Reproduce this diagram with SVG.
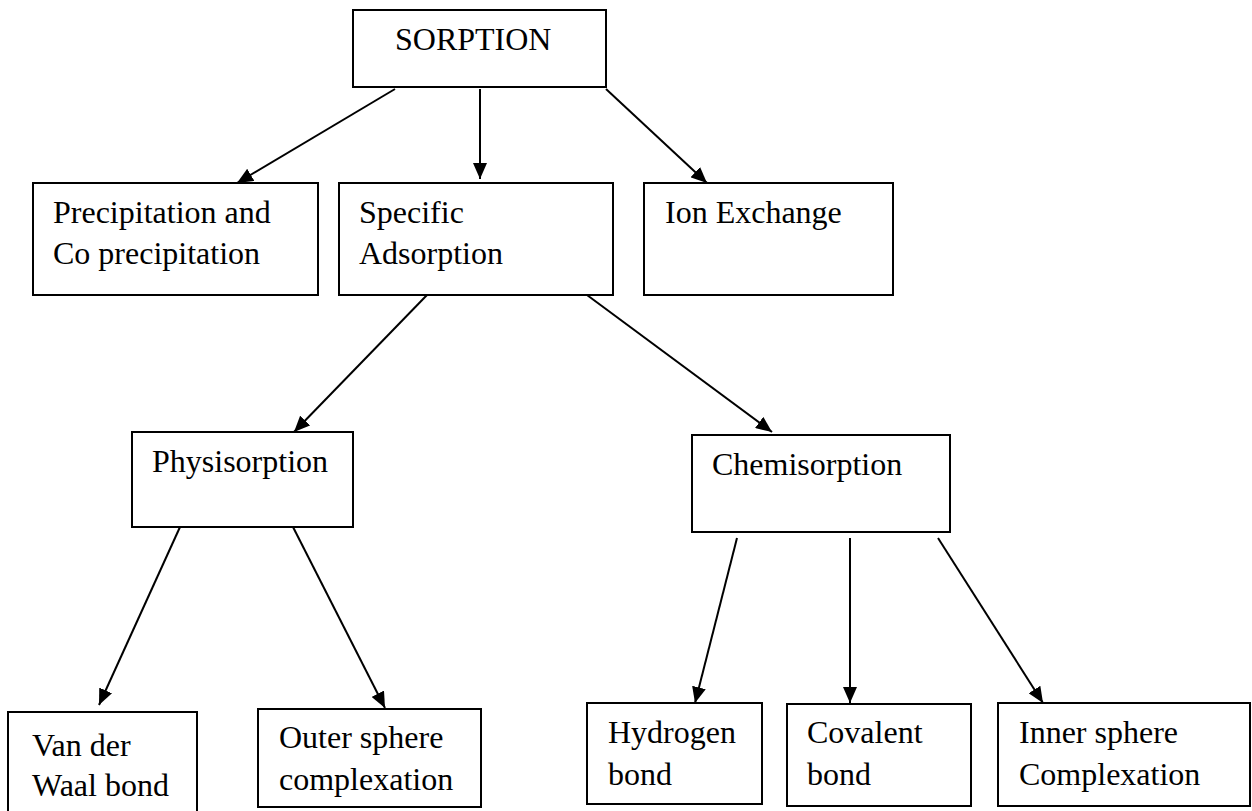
<svg xmlns="http://www.w3.org/2000/svg" width="1252" height="811" viewBox="0 0 1252 811">
<defs>
<style>
.box{fill:#fff;stroke:#000;stroke-width:2}
.t{font-family:"Liberation Serif","Times New Roman",serif;font-size:32px;fill:#000}
.c{stroke:#000;stroke-width:2;fill:none;marker-end:url(#ah)}
</style>
<marker id="ah" viewBox="0 0 16 14" refX="16" refY="7" markerWidth="16" markerHeight="14" markerUnits="userSpaceOnUse" orient="auto">
<path d="M0,0 L16,7 L0,14 Z" fill="#000"/>
</marker>
</defs>
<rect width="1252" height="811" fill="#fff"/>
<g id="connectors">
<line class="c" x1="395" y1="89" x2="237" y2="183"/>
<line class="c" x1="480" y1="89" x2="480" y2="179"/>
<line class="c" x1="606" y1="89" x2="707" y2="183"/>
<line class="c" x1="427" y1="295" x2="294" y2="432"/>
<line class="c" x1="587" y1="295" x2="772" y2="432"/>
<line class="c" x1="180" y1="527" x2="99" y2="705"/>
<line class="c" x1="293" y1="527" x2="385" y2="708"/>
<line class="c" x1="737" y1="538" x2="695" y2="703"/>
<line class="c" x1="850" y1="538" x2="850" y2="703"/>
<line class="c" x1="938" y1="538" x2="1043" y2="703"/>
</g>
<g id="sorption"><rect class="box" x="353" y="10" width="253" height="77"/><text class="t" x="395" y="50">SORPTION</text></g>
<g id="precipitation"><rect class="box" x="33" y="183" width="285" height="112"/><text class="t" x="53" y="223">Precipitation and</text><text class="t" x="53" y="264">Co precipitation</text></g>
<g id="specific"><rect class="box" x="339" y="183" width="274" height="112"/><text class="t" x="359" y="223">Specific</text><text class="t" x="359" y="264">Adsorption</text></g>
<g id="ionexchange"><rect class="box" x="644" y="183" width="249" height="112"/><text class="t" x="665" y="223">Ion Exchange</text></g>
<g id="physisorption"><rect class="box" x="132" y="432" width="221" height="95"/><text class="t" x="152" y="472">Physisorption</text></g>
<g id="chemisorption"><rect class="box" x="692" y="435" width="258" height="97"/><text class="t" x="712" y="475">Chemisorption</text></g>
<g id="vanderwaal"><rect class="box" x="8" y="712" width="189" height="110"/><text class="t" x="32" y="756">Van der</text><text class="t" x="32" y="796">Waal bond</text></g>
<g id="outersphere"><rect class="box" x="258" y="709" width="223" height="98"/><text class="t" x="279" y="748">Outer sphere</text><text class="t" x="279" y="790">complexation</text></g>
<g id="hydrogen"><rect class="box" x="587" y="703" width="175" height="101"/><text class="t" x="608" y="743">Hydrogen</text><text class="t" x="608" y="785">bond</text></g>
<g id="covalent"><rect class="box" x="787" y="704" width="184" height="102"/><text class="t" x="807" y="743">Covalent</text><text class="t" x="807" y="785">bond</text></g>
<g id="innersphere"><rect class="box" x="998" y="703" width="252" height="103"/><text class="t" x="1019" y="743">Inner sphere</text><text class="t" x="1019" y="785">Complexation</text></g>
</svg>
